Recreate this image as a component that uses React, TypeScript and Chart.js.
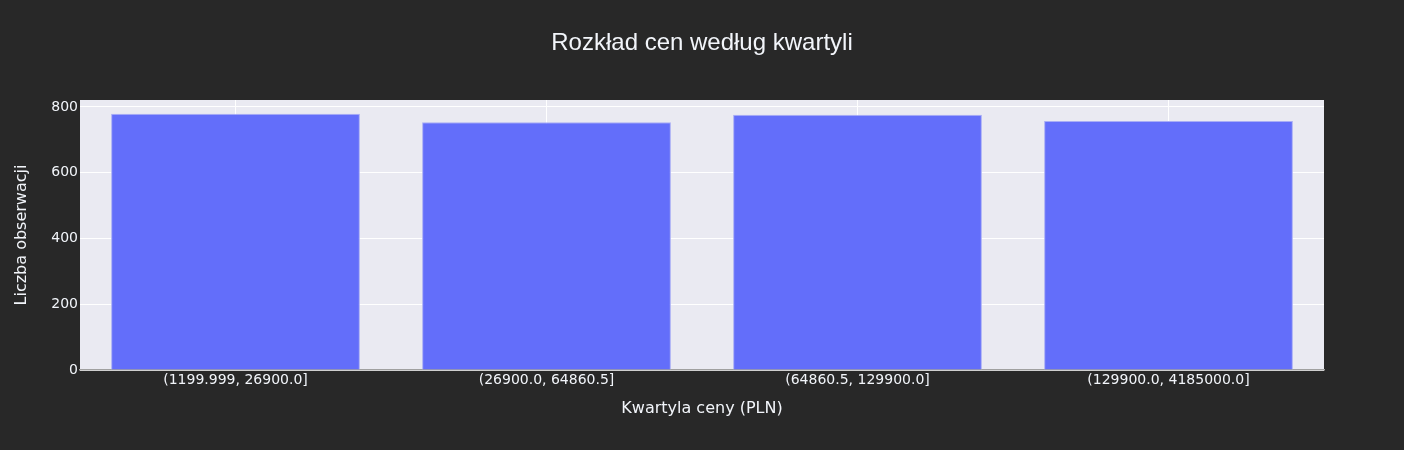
import React, { useEffect, useRef } from "react";
import { Chart, registerables } from "chart.js";

Chart.register(...registerables);

const categories = [
  "(1199.999, 26900.0]",
  "(26900.0, 64860.5]",
  "(64860.5, 129900.0]",
  "(129900.0, 4185000.0]",
];
const counts = [779, 753, 776, 757];
const yTicks = [0, 200, 400, 600, 800];

const titleText = "Rozkład cen według kwartyli";
const xTitle = "Kwartyla ceny (PLN)";
const yTitle = "Liczba obserwacji";

const PAGE_BG = "#282828";
const PLOT_BG = "#eaeaf2";
const BAR = "#636efa";
const TEXT = "#f2f5fa";
const TICK_FONT = "'DejaVu Sans', Verdana, sans-serif";
const TITLE_FONT = "'Liberation Sans', Arial, sans-serif";

const bgPlugin = {
  id: "bgPlugin",
  beforeDraw(chart: any) {
    const { ctx, chartArea, width, height } = chart;
    ctx.save();
    ctx.fillStyle = PAGE_BG;
    ctx.fillRect(0, 0, width, height);
    ctx.fillStyle = PLOT_BG;
    ctx.fillRect(
      chartArea.left,
      chartArea.top,
      chartArea.right - chartArea.left,
      chartArea.bottom - chartArea.top
    );
    ctx.restore();
  },
  afterDraw(chart: any) {
    const { ctx, width } = chart;
    ctx.save();
    ctx.fillStyle = TEXT;
    ctx.font = `24px ${TITLE_FONT}`;
    ctx.textAlign = "center";
    ctx.textBaseline = "middle";
    ctx.fillText(titleText, width / 2, 43);
    ctx.restore();
  },
};

export default function App() {
  const ref = useRef<HTMLCanvasElement | null>(null);

  useEffect(() => {
    if (!ref.current) return;
    const chart = new Chart(ref.current, {
      type: "bar",
      data: {
        labels: categories,
        datasets: [
          {
            data: counts,
            backgroundColor: BAR,
            borderColor: "#a9aef5",
            borderWidth: 1,
            barPercentage: 0.8,
            categoryPercentage: 1.0,
          },
        ],
      },
      options: {
        responsive: false,
        animation: false,
        layout: { padding: { left: 0, right: 80, top: 100, bottom: 0 } },
        plugins: {
          legend: { display: false },
          tooltip: { enabled: false },
          title: { display: false },
        },
        scales: {
          x: {
            afterFit: (s: any) => {
              s.height = 80;
            },
            grid: { color: "#ffffff", lineWidth: 1, offset: false, drawTicks: false },
            border: { display: true, color: "#a0a0a0", width: 1.5 },
            ticks: {
              color: TEXT,
              font: { family: TICK_FONT, size: 14 },
              padding: 2,
              maxRotation: 0,
            },
            title: {
              display: true,
              text: xTitle,
              color: TEXT,
              font: { family: TICK_FONT, size: 16 },
              padding: { top: 0, bottom: 32 },
            },
          },
          y: {
            min: 0,
            max: 821,
            afterFit: (s: any) => {
              s.width = 80;
            },
            afterBuildTicks: (s: any) => {
              s.ticks = yTicks.map((v) => ({ value: v }));
            },
            grid: { color: "#ffffff", lineWidth: 1, drawTicks: false },
            border: { display: false },
            ticks: {
              color: TEXT,
              font: { family: TICK_FONT, size: 14 },
              padding: 2,
            },
            title: {
              display: true,
              text: yTitle,
              color: TEXT,
              font: { family: TICK_FONT, size: 16 },
              padding: { top: 12, bottom: 0 },
            },
          },
        },
      },
      plugins: [bgPlugin],
    });
    return () => chart.destroy();
  }, []);

  return (
    <div
      style={{
        position: "absolute",
        left: 0,
        top: 0,
        width: 1404,
        height: 450,
        background: PAGE_BG,
      }}
    >
      <canvas ref={ref} width={1404} height={450} />
    </div>
  );
}
